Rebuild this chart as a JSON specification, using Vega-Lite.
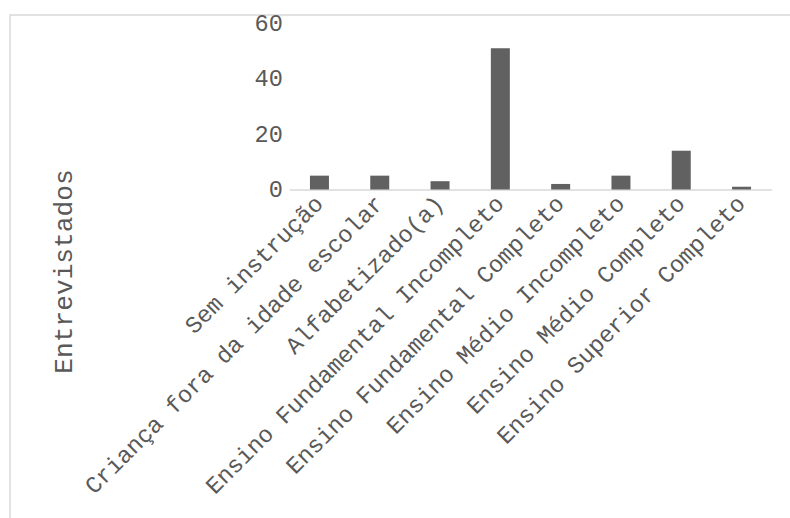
{
  "$schema": "https://vega.github.io/schema/vega-lite/v6.json",
  "autosize": {"type": "none"},
  "padding": {"left": 10, "top": 15, "right": 0, "bottom": 0},
  "width": 790,
  "height": 510,
  "background": "white",
  "config": {
    "view": {"stroke": "#d9d9d9", "strokeWidth": 1.5},
    "font": "Liberation Mono"
  },
  "data": {
    "values": [
      {"escolaridade": "Sem instrução", "entrevistados": 5},
      {"escolaridade": "Criança fora da idade escolar", "entrevistados": 5},
      {"escolaridade": "Alfabetizado(a)", "entrevistados": 3},
      {"escolaridade": "Ensino Fundamental Incompleto", "entrevistados": 51},
      {"escolaridade": "Ensino Fundamental Completo", "entrevistados": 2},
      {"escolaridade": "Ensino Médio Incompleto", "entrevistados": 5},
      {"escolaridade": "Ensino Médio Completo", "entrevistados": 14},
      {"escolaridade": "Ensino Superior Completo", "entrevistados": 1}
    ]
  },
  "mark": {"type": "bar", "color": "#616161"},
  "encoding": {
    "x": {
      "field": "escolaridade",
      "type": "nominal",
      "sort": null,
      "scale": {"range": [279.3, 761.7], "paddingInner": 0.685, "paddingOuter": 0.3425},
      "axis": {
        "title": null,
        "orient": "bottom",
        "offset": -335.5,
        "ticks": false,
        "tickSize": 0,
        "domainColor": "#d9d9d9",
        "domainWidth": 1.5,
        "labelAngle": -45,
        "labelAlign": "right",
        "labelBaseline": "middle",
        "labelPadding": 10,
        "labelFontSize": 23.6,
        "labelColor": "#595959",
        "labelFont": "Liberation Mono",
        "labelLimit": 0
      }
    },
    "y": {
      "field": "entrevistados",
      "type": "quantitative",
      "scale": {"domain": [0, 60], "range": [174.5, 8.3], "nice": false},
      "axis": {
        "title": "Entrevistados",
        "values": [0, 20, 40, 60],
        "offset": -279.3,
        "domain": false,
        "ticks": false,
        "tickSize": 0,
        "grid": false,
        "labelPadding": 7,
        "labelFontSize": 23.6,
        "labelColor": "#595959",
        "labelFont": "Liberation Mono",
        "titleFont": "Liberation Mono",
        "titleFontSize": 26.2,
        "titleFontWeight": "normal",
        "titleColor": "#595959",
        "titleAngle": -90,
        "titleAlign": "center",
        "titleBaseline": "middle",
        "titleX": -225.3,
        "titleY": 256
      }
    }
  }
}
